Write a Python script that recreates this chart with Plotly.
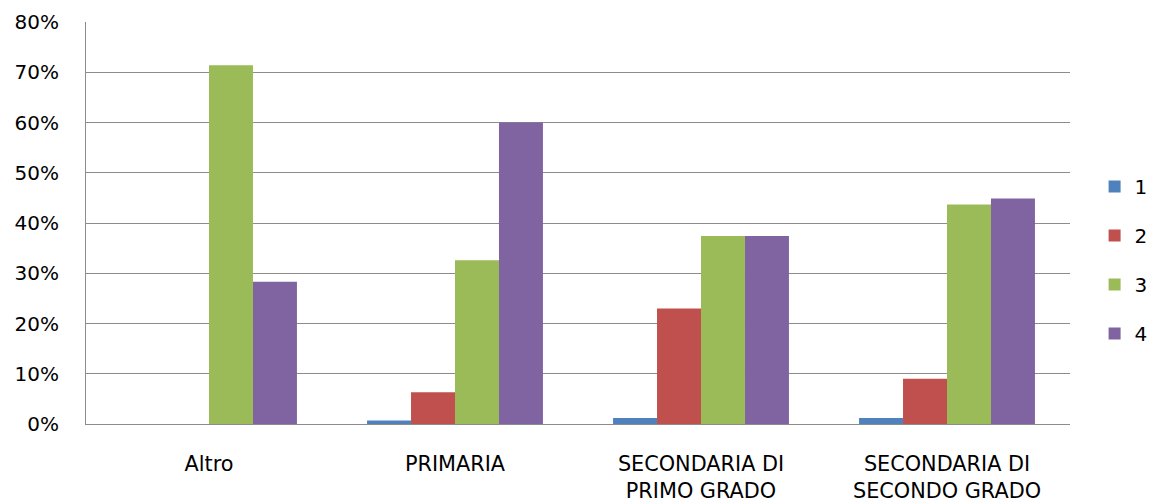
import plotly.graph_objects as go

categories = ["Altro", "PRIMARIA", "SECONDARIA DI<br>PRIMO GRADO", "SECONDARIA DI<br>SECONDO GRADO"]
series_names = ["1", "2", "3", "4"]
s1 = [0.0, 0.7, 1.2, 1.2]
s2 = [0.0, 6.3, 23.0, 9.0]
s3 = [71.4, 32.6, 37.4, 43.7]
s4 = [28.3, 60.0, 37.4, 44.9]
colors = ["#4F81BD", "#C0504D", "#9BBB59", "#8064A2"]
yticks = [0, 10, 20, 30, 40, 50, 60, 70, 80]

fig = go.Figure()
for i, (name, vals) in enumerate(zip(series_names, [s1, s2, s3, s4])):
    fig.add_trace(go.Bar(
        x=categories, y=vals, name=name,
        marker=dict(color=colors[i], line=dict(width=0)),
        legendgroup=name,
    ))

family = "DejaVu Sans, Verdana, sans-serif"
yfont = dict(family=family, size=20, color="#000000")
xfont = dict(family=family, size=20.8, color="#000000")
fig.update_layout(
    width=1151, height=503,
    margin=dict(l=86, r=81, t=22, b=79, autoexpand=False),
    barmode="group", bargap=0.285, bargroupgap=0,
    plot_bgcolor="white", paper_bgcolor="white",
    font=yfont,
    showlegend=True,
    legend=dict(
        xref="container", yref="container",
        x=0.951, y=0.483, xanchor="left", yanchor="middle",
        traceorder="grouped", tracegroupgap=20,
        font=yfont, itemwidth=30,
    ),
    xaxis=dict(
        showline=True, linecolor="#8C8C8C", linewidth=1,
        showgrid=False, ticks="", ticklabelstandoff=21,
        tickfont=xfont,
    ),
    yaxis=dict(
        range=[0, 80], tickvals=yticks,
        ticktext=[f"{v}%" for v in yticks],
        showgrid=True, gridcolor="#8C8C8C", gridwidth=1,
        showline=True, linecolor="#8C8C8C", linewidth=1,
        ticks="", ticklabelstandoff=22, zeroline=False,
        tickfont=yfont,
    ),
)
fig.write_html("out.html")
